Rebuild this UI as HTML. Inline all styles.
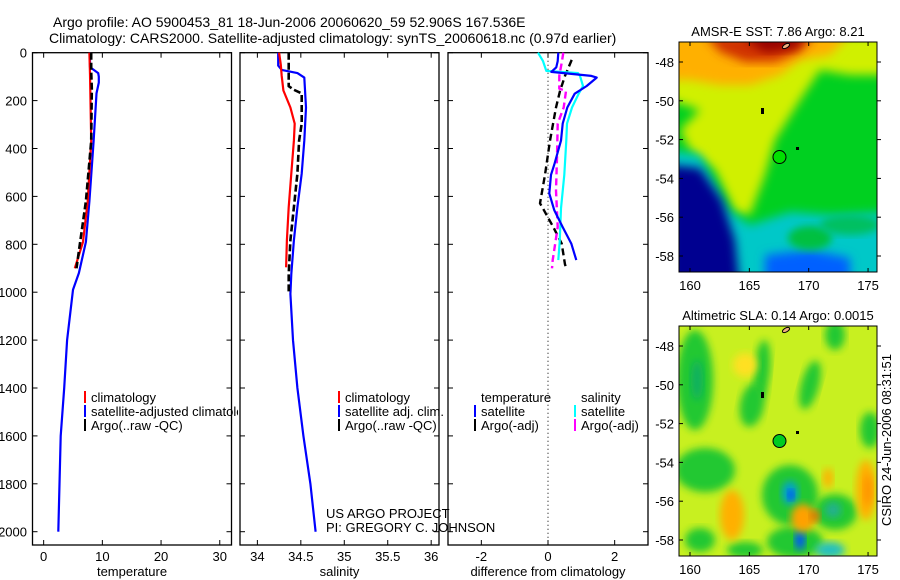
<!DOCTYPE html>
<html><head><meta charset="utf-8"><style>
html,body{margin:0;padding:0;background:#fff;}
svg{display:block;font-family:"Liberation Sans",sans-serif;}
</style></head><body>
<svg id="fig" width="900" height="580" viewBox="0 0 900 580">
<defs>
<clipPath id="cp1"><rect x="32" y="52" width="206" height="493"/></clipPath>
<clipPath id="cpmap1"><rect x="679" y="42" width="198" height="230"/></clipPath>
<clipPath id="cpmap2"><rect x="679" y="326" width="198" height="230"/></clipPath>
<filter id="bl" x="-20%" y="-20%" width="140%" height="140%"><feGaussianBlur stdDeviation="5"/></filter>
<filter id="bl2" x="-20%" y="-20%" width="140%" height="140%"><feGaussianBlur stdDeviation="4"/></filter>
</defs>
<text x="53" y="27" font-size="14">Argo profile: AO 5900453_81 18-Jun-2006 20060620_59 52.906S 167.536E</text>
<text x="49" y="43" font-size="14">Climatology: CARS2000. Satellite-adjusted climatology: synTS_20060618.nc (0.97d earlier)</text>
<g id="charts"></g>
<g id="maps"></g>
<text transform="translate(891,440) rotate(-90)" text-anchor="middle" font-size="13">CSIRO 24-Jun-2006 08:31:51</text>
</svg>
<script>
// ---- depth axis data ----
const depthTicks = [0,200,400,600,800,1000,1200,1400,1600,1800,2000];
// Panel 1: temperature
const tempTicks = [0,10,20,30];
const tClimDepth = [0,90,230,370,620,790,900];
const tClimVal = [7.8,7.9,8.0,8.1,7.5,6.7,5.3];
const tSatDepth = [0,60,85,100,125,170,370,620,790,920,990,1200,1400,1600,1800,2000];
const tSatVal = [7.9,7.9,9.3,9.4,9.4,9.0,8.5,7.8,7.2,6.0,5.0,4.0,3.5,2.9,2.7,2.5];
const tArgoDepth = [0,80,150,370,620,810,900];
const tArgoVal = [8.1,8.1,8.2,8.1,7.2,6.1,5.6];
// Panel 2: salinity
const salTicks = [34,34.5,35,35.5,36];
const sClimDepth = [0,50,97,158,229,296,367,505,645,783,896];
const sClimVal = [34.25,34.27,34.28,34.30,34.38,34.43,34.42,34.39,34.36,34.34,34.33];
const sSatDepth = [0,54,72,85,104,229,367,505,645,783,925,1007,1200,1400,1600,1800,2000];
const sSatVal = [34.24,34.24,34.28,34.46,34.54,34.56,34.54,34.51,34.46,34.42,34.39,34.38,34.41,34.46,34.53,34.61,34.67];
const sArgoDepth = [0,140,155,170,296,367,505,645,783,925,1000];
const sArgoVal = [34.36,34.36,34.42,34.51,34.51,34.48,34.46,34.42,34.38,34.36,34.36];
// Panel 3: differences
const diffTicks = [-2,0,2];
const dTSatDepth = [0,35,61,80,97,104,139,171,229,296,367,467,510,588,658,728,797,866];
const dTSatVal = [0.31,0.29,0.25,0.1,1.3,1.46,1.16,0.8,0.58,0.44,0.39,0.19,0.09,0.04,0.19,0.44,0.7,0.85];
const dSSatDepth = [0,35,76,85,97,139,171,229,296,367,510,650,790,866];
const dSSatVal = [-0.3,-0.15,-0.05,0.9,0.96,1.05,0.92,0.72,0.57,0.55,0.49,0.39,0.35,0.31];
const dTArgoDepth = [30,97,160,229,367,510,629,658,728,797,884,900];
const dTArgoVal = [0.71,0.51,0.36,0.24,0.06,-0.09,-0.24,-0.12,0.16,0.41,0.51,0.55];
const dSArgoDepth = [0,35,97,150,160,229,296,436,575,728,866,900];
const dSArgoVal = [0.46,0.42,0.34,0.34,0.54,0.47,0.29,0.27,0.24,0.29,0.14,0.12];

const NS='http://www.w3.org/2000/svg';
const root=document.getElementById('charts');
function mk(tag,attrs,parent){const e=document.createElementNS(NS,tag);for(const k in attrs)e.setAttribute(k,attrs[k]);(parent||root).appendChild(e);return e;}
const yTop=52.7, yScale=0.2395;
function yD(d){return yTop+d*yScale;}
const panels=[
 {x0:32.5,x1:231.5,min:-1.9,max:32,ticks:tempTicks,title:'temperature',name:'temperature'},
 {x0:240,x1:439,min:33.8,max:36.09,ticks:salTicks,title:'salinity',name:'salinity'},
 {x0:448,x1:648,min:-3,max:3,ticks:diffTicks,title:'difference from climatology',name:'difference'}
];
function xf(p,v){return p.x0+(v-p.min)/(p.max-p.min)*(p.x1-p.x0);}
const yBot=545;
panels.forEach((p,i)=>{
 const g=mk('g',{});
 
 
 const r=mk('rect',{x:p.x0,y:yTop,width:p.x1-p.x0,height:yBot-yTop,fill:'#fff',stroke:'#000','stroke-width':1.3},g);
 
 
 depthTicks.forEach(d=>{
  const y=yD(d);
  mk('line',{x1:p.x0,x2:p.x0+5,y1:y,y2:y,stroke:'#000'},g);
  mk('line',{x1:p.x1,x2:p.x1-5,y1:y,y2:y,stroke:'#000'},g);
  if(i===0){const t=mk('text',{x:27,y:y+5,'text-anchor':'end','font-size':13},g);t.textContent=d;
   
   }
 });
 p.ticks.forEach(v=>{
  const x=xf(p,v);
  mk('line',{x1:x,x2:x,y1:yBot,y2:yBot-5,stroke:'#000'},g);
  mk('line',{x1:x,x2:x,y1:yTop,y2:yTop+5,stroke:'#000'},g);
  const t=mk('text',{x:x,y:561,'text-anchor':'middle','font-size':13},g);t.textContent=v;
  
  
 });
 const tt=mk('text',{x:(p.x0+p.x1)/2,y:576,'text-anchor':'middle','font-size':13},g);tt.textContent=p.title;
 
 
});
function series(p,depths,vals,color,name,dash,w){
 const pts=depths.map((d,k)=>xf(p,vals[k]).toFixed(1)+','+yD(d).toFixed(1)).join(' ');
 const l=mk('polyline',{points:pts,fill:'none',stroke:color,'stroke-width':w||2.2,'stroke-dasharray':dash||'none','stroke-linejoin':'round'});
 
 
}
const P=panels;
series(P[0],tSatDepth,tSatVal,'#0000ff','temp-satellite-line');
series(P[0],tClimDepth,tClimVal,'#ff0000','temp-climatology-line');
series(P[0],tArgoDepth,tArgoVal,'#000','temp-argo-line','7,3',2.6);
series(P[1],sSatDepth,sSatVal,'#0000ff','sal-satellite-line');
series(P[1],sClimDepth,sClimVal,'#ff0000','sal-climatology-line');
series(P[1],sArgoDepth,sArgoVal,'#000','sal-argo-line','7,3',2.6);
const z=mk('line',{x1:xf(P[2],0),x2:xf(P[2],0),y1:yTop,y2:yBot,stroke:'#000','stroke-dasharray':'1,3'});


series(P[2],dTArgoDepth,dTArgoVal,'#000','diff-temp-argo-line','7,4',2.4);
series(P[2],dSArgoDepth,dSArgoVal,'#ff00ff','diff-sal-argo-line','7,4',2.4);
series(P[2],dSSatDepth,dSSatVal,'#00ffff','diff-sal-satellite-line');
series(P[2],dTSatDepth,dTSatVal,'#0000ff','diff-temp-satellite-line');
// legends
function leg(x,y,color,label,name,clip){
 if(color){const m=mk('rect',{x:x-7,y:y-11,width:2,height:12,fill:color});
  
  }
 const t=mk('text',{x:x,y:y,'font-size':13});t.textContent=label;
 if(clip)t.setAttribute('clip-path','url(#cp1)');
 
 
}
leg(91,402,'#ff0000','climatology','legend-climatology');
leg(91,416,'#0000ff','satellite-adjusted climatology','legend-satellite-adjusted',true);
leg(91,430,'#000','Argo(..raw -QC)','legend-argo-raw');
leg(345,402,'#ff0000','climatology','legend-sal-climatology');
leg(345,416,'#0000ff','satellite adj. clim.','legend-sal-satellite');
leg(345,430,'#000','Argo(..raw -QC)','legend-sal-argo');
leg(481,402,null,'temperature','legend-temperature-header');
leg(481,416,'#0000ff','satellite','legend-temp-satellite');
leg(481,430,'#000','Argo(-adj)','legend-temp-argo');
leg(581,402,null,'salinity','legend-salinity-header');
leg(581,416,'#00ffff','satellite','legend-sal-satellite-diff');
leg(581,430,'#ff00ff','Argo(-adj)','legend-sal-argo-diff');
leg(326,518,null,'US ARGO PROJECT','project-credit');
leg(326,532,null,'PI: GREGORY C. JOHNSON','pi-credit');

// ---- maps ----
const mroot=document.getElementById('maps');
const lonTicks=[160,165,170,175];
const latTicks=[-48,-50,-52,-54,-56,-58];
function lonX(l){return 690+(l-160)*11.87;}
function latY(l,off){return 62+off+(-48-l)*19.4;}
function mm(tag,attrs,parent){return mk(tag,attrs,parent||mroot);}
function mapFrame(off,title,name,drawFn,clip){
 const g=mm('g',{});
 
 
 const inner=mm('g',{'clip-path':'url(#'+clip+')'},g);
 drawFn(inner,off);
 mm('rect',{x:679,y:42+off,width:198,height:230,fill:'none',stroke:'#000','stroke-width':1},g);
 lonTicks.forEach(l=>{const x=lonX(l);
  mm('line',{x1:x,x2:x,y1:42+off,y2:46+off,stroke:'#000'},g);
  mm('line',{x1:x,x2:x,y1:272+off,y2:268+off,stroke:'#000'},g);
  const t=mm('text',{x:x,y:290+off,'text-anchor':'middle','font-size':13},g);t.textContent=l;
  
  });
 latTicks.forEach(l=>{const y=latY(l,off);
  mm('line',{x1:679,x2:683,y1:y,y2:y,stroke:'#000'},g);
  mm('line',{x1:877,x2:881,y1:y,y2:y,stroke:'#000'},g);
  const t=mm('text',{x:674,y:y+5,'text-anchor':'end','font-size':13},g);t.textContent=l;
  
  });
 const tt=mm('text',{x:778,y:36+off,'text-anchor':'middle','font-size':13},g);tt.textContent=title;
 
 
}
function poly(g,pts,fill,filt){return mm('polygon',{points:pts,fill:fill,filter:filt||'url(#bl)'},g);}
function ell(g,cx,cy,rx,ry,fill,rot){return mm('ellipse',{cx:cx,cy:cy,rx:rx,ry:ry,fill:fill,filter:'url(#bl2)',transform:'rotate('+(rot||0)+' '+cx+' '+cy+')'},g);}
function markers(g,off,col){
 mm('ellipse',{cx:786,cy:46+off,rx:4,ry:2,fill:'#f0b080',stroke:'#000','stroke-width':1,transform:'rotate(-30 786 '+(46+off)+')'},g);
 mm('rect',{x:761,y:108+off,width:3,height:6,fill:'#000'},g);
 mm('rect',{x:796,y:147+off,width:3,height:3,fill:'#000'},g);
 const c=mm('circle',{cx:lonX(167.54),cy:latY(-52.9,off),r:6.5,fill:col,stroke:'#000','stroke-width':1},g);
 
 
}
mapFrame(0,'AMSR-E SST: 7.86 Argo: 8.21','sst-map',(g,o)=>{
 mm('rect',{x:670,y:35,width:220,height:250,fill:'#00d020'},g);
 poly(g,'670,35 890,35 890,75 850,75 820,70 800,100 775,140 765,175 750,215 735,212 715,170 690,150 680,130 700,110 670,100','#d0f000');
 poly(g,'670,35 850,35 830,55 800,60 780,75 750,85 720,85 690,80 670,80','#ffb000');
 poly(g,'705,35 815,35 800,52 775,62 745,62 720,52','#d03000');
 poly(g,'740,35 805,35 795,48 765,52','#950000');
 poly(g,'670,150 700,155 728,210 750,225 790,212 830,215 890,212 890,290 670,290','#00c8c8');
 poly(g,'670,165 700,168 722,200 735,240 740,290 670,290','#000090');
 poly(g,'765,255 810,250 850,258 850,290 765,290','#0060ff');
 ell(g,810,238,22,12,'#00c040');
 ell(g,850,225,30,10,'#00c060');
 markers(g,o,'#00e000');
},'cpmap1');
mapFrame(284,'Altimetric SLA: 0.14 Argo: 0.0015','sla-map',(g,o)=>{
 mm('rect',{x:670,y:320,width:220,height:250,fill:'#c8f020'},g);
 ell(g,695,380,18,50,'#22c830');
 ell(g,697,380,6,20,'#10b060');
 ell(g,762,370,8,30,'#22c830',5);
 ell(g,752,405,12,22,'#22c830',10);
 ell(g,810,385,9,25,'#22c830',15);
 ell(g,835,335,10,15,'#22c830');
 ell(g,870,430,10,18,'#22c830');
 ell(g,705,470,30,22,'#22c830');
 ell(g,790,495,28,30,'#22c830');
 ell(g,790,493,8,12,'#00a0d0');
 ell(g,791,495,3,5,'#0030ff');
 ell(g,835,512,22,18,'#22c830');
 ell(g,833,510,8,8,'#20b090');
 ell(g,795,542,28,16,'#22c830');
 ell(g,800,540,5,10,'#0050ff');
 ell(g,830,550,15,8,'#20c0c0');
 ell(g,745,550,18,8,'#22c830');
 ell(g,700,540,15,12,'#22c830');
 ell(g,732,515,12,25,'#ffb000');
 ell(g,803,518,12,14,'#ffa000');
 ell(g,815,516,5,6,'#e07000');
 ell(g,866,490,10,30,'#ffb000');
 ell(g,868,490,4,16,'#ff9000');
 ell(g,828,478,5,10,'#ffb000');
 ell(g,745,365,12,12,'#ffe020');
 markers(g,o,'#00cc22');
},'cpmap2');
</script>
</body></html>
